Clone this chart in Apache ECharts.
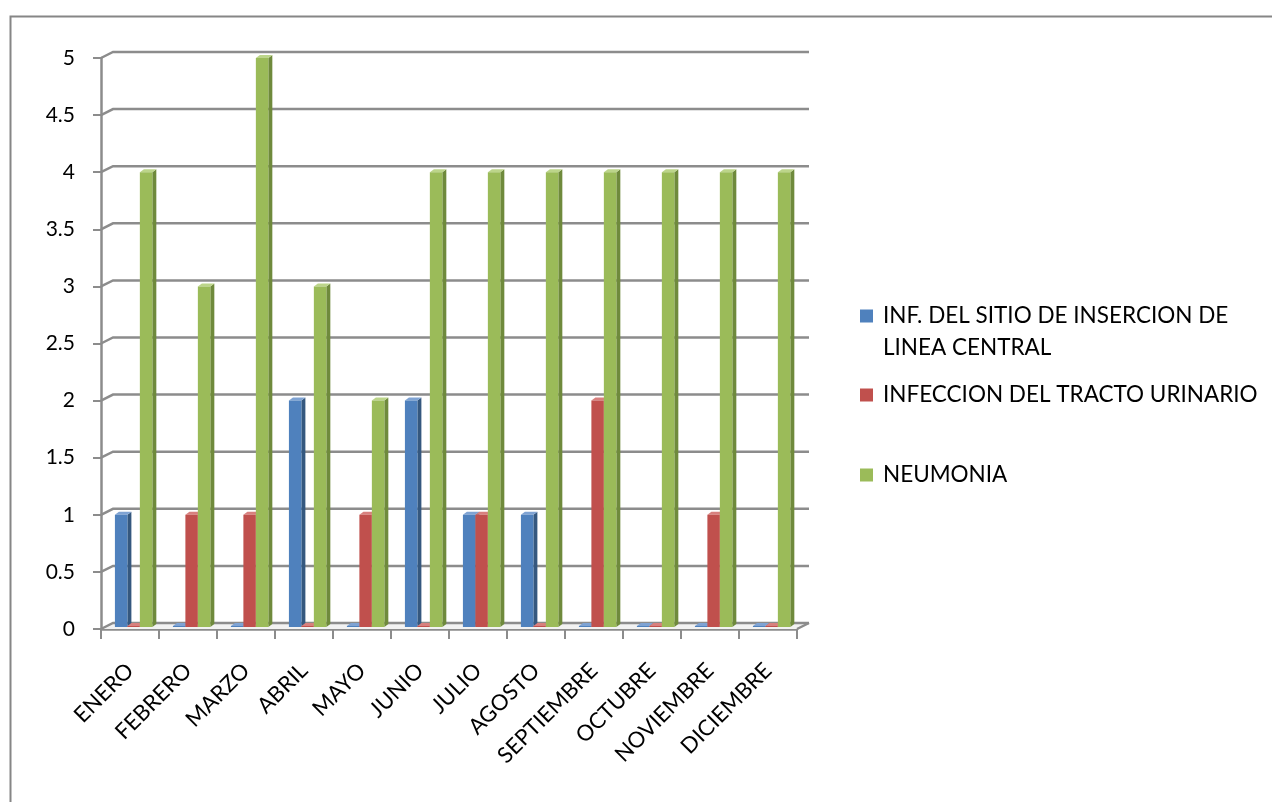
<!DOCTYPE html>
<html>
<head>
<meta charset="utf-8">
<script src="https://cdn.jsdelivr.net/npm/echarts@6/dist/echarts.min.js"></script>
<style>html,body{margin:0;padding:0;background:#fff}#c{width:1272px;height:802px}</style>
</head>
<body>
<div id="c"></div>
<script>
var categories = ['ENERO','FEBRERO','MARZO','ABRIL','MAYO','JUNIO','JULIO','AGOSTO','SEPTIEMBRE','OCTUBRE','NOVIEMBRE','DICIEMBRE'];
var seriesNames = ['INF. DEL SITIO DE INSERCION DE LINEA CENTRAL','INFECCION DEL TRACTO URINARIO','NEUMONIA'];
var lineaCentral = [1,0,0,2,0,2,1,1,0,0,0,0];
var tractoUrinario = [0,1,1,0,1,0,1,0,2,0,1,0];
var neumonia = [4,3,5,3,2,4,4,4,4,4,4,4];
var yTicks = [0,0.5,1,1.5,2,2.5,3,3.5,4,4.5,5];

var colors = ['#4F81BD','#C0504D','#9BBB59'];
var sideColors = ['#35587F','#8E3A38','#6F8A3C'];
var topColors = ['#7FA3D3','#D8807E','#BCD58A'];
var GRID = '#8C8C8C';
var DX = 12, DY = -6; // back-wall offset

var chart = echarts.init(document.getElementById('c'));

function barRender(s) {
  return function (params, api) {
    var idx = api.value(0), val = api.value(1);
    var bw = api.size([1, 0])[0];
    var c = api.coord([idx, val]);
    var b = api.coord([idx, 0]);
    var catLeft = c[0] - bw / 2;
    var w = bw * 0.215;
    var x = catLeft + bw * 0.24 + s * w;
    var yTop = c[1];
    var yBot = b[1] - 2;
    if (yBot - yTop < 1) yTop = yBot - 1;
    var d = 4, dh = -3;
    return {
      type: 'group',
      children: [
        {type: 'polygon', shape: {points: [[x + w, yTop], [x + w + d, yTop + dh], [x + w + d, yBot + dh], [x + w, yBot]]},
          style: {fill: sideColors[s]}},
        {type: 'polygon', shape: {points: [[x, yTop], [x + d, yTop + dh], [x + w + d, yTop + dh], [x + w, yTop]]},
          style: {fill: topColors[s]}},
        {type: 'rect', shape: {x: x, y: yTop, width: w, height: yBot - yTop},
          style: {fill: colors[s]}}
      ]
    };
  };
}

function gridRender(params, api) {
  var v = api.value(0);
  var bw = api.size([1, 0])[0];
  var l = api.coord([0, v]);
  var r = api.coord([categories.length - 1, v]);
  var xl = l[0] - bw / 2, xr = r[0] + bw / 2, y = l[1];
  var children = [{
    type: 'polyline',
    shape: {points: [[xl, y], [xl + DX, y + DY], [xr + DX, y + DY]]},
    style: {stroke: GRID, lineWidth: 2.5, fill: null}
  }];
  if (v === 0) {
    children.unshift({
      type: 'polygon',
      shape: {points: [[xl, y], [xl + DX, y + DY], [xr + DX, y + DY], [xr, y]]},
      style: {fill: '#F2F2F2'}
    });
    children.push({
      type: 'line', shape: {x1: xr, y1: y, x2: xr + DX, y2: y + DY},
      style: {stroke: GRID, lineWidth: 2.5}
    });
  }
  return {type: 'group', children: children};
}

var seriesData = [lineaCentral, tractoUrinario, neumonia];
var series = [{
  type: 'custom', name: 'grid', silent: true, z: 1,
  renderItem: gridRender,
  data: yTicks.map(function (v) { return [v]; }),
  encode: {y: 0},
  clip: false
}];
seriesData.forEach(function (arr, s) {
  series.push({
    type: 'custom', name: seriesNames[s], z: 5,
    itemStyle: {color: colors[s]},
    renderItem: barRender(s),
    data: arr.map(function (v, i) { return [i, v]; }),
    encode: {x: 0, y: 1},
    clip: false
  });
});

var legendText = {fontFamily: 'Lato', fontSize: 22.5, color: '#000', lineHeight: 32, padding: [0, 0, 0, 5]};
function mkLegend(i, top) {
  return {
    show: true, orient: 'vertical', left: 860, top: top, padding: 0,
    itemWidth: 13, itemHeight: 13, icon: 'rect',
    data: [{name: seriesNames[i], icon: 'rect', itemStyle: {color: colors[i]}}],
    formatter: function (n) { return n === seriesNames[0] ? '\nINF. DEL SITIO DE INSERCION DE\nLINEA CENTRAL' : n; },
    textStyle: legendText,
    selectedMode: false
  };
}

chart.setOption({
  animation: false,
  backgroundColor: '#fff',
  graphic: [{
    type: 'rect', left: 8, top: 14, shape: {width: 1290, height: 820},
    style: {fill: null, stroke: '#868686', lineWidth: 2}, silent: true
  }],
  legend: [
    mkLegend(0, 268),
    mkLegend(1, 379),
    mkLegend(2, 459)
  ],
  grid: {left: 101, top: 58, width: 696, height: 571, containLabel: false},
  xAxis: {
    type: 'category', data: categories, boundaryGap: true,
    axisLine: {show: true, lineStyle: {color: GRID, width: 2.5}},
    axisTick: {show: true, length: 10, lineStyle: {color: GRID, width: 2}},
    axisLabel: {rotate: 45, margin: 38, fontFamily: 'Lato', fontSize: 22, color: '#000', interval: 0},
    splitLine: {show: false}
  },
  yAxis: {
    type: 'value', min: 0, max: 5, interval: 0.5,
    axisLine: {show: true, lineStyle: {color: GRID, width: 2.5}},
    axisTick: {show: true, length: 8, lineStyle: {color: GRID, width: 2}},
    axisLabel: {margin: 26, fontFamily: 'Lato', fontSize: 21, color: '#000'},
    splitLine: {show: false}
  },
  series: series
});
</script>
</body>
</html>
